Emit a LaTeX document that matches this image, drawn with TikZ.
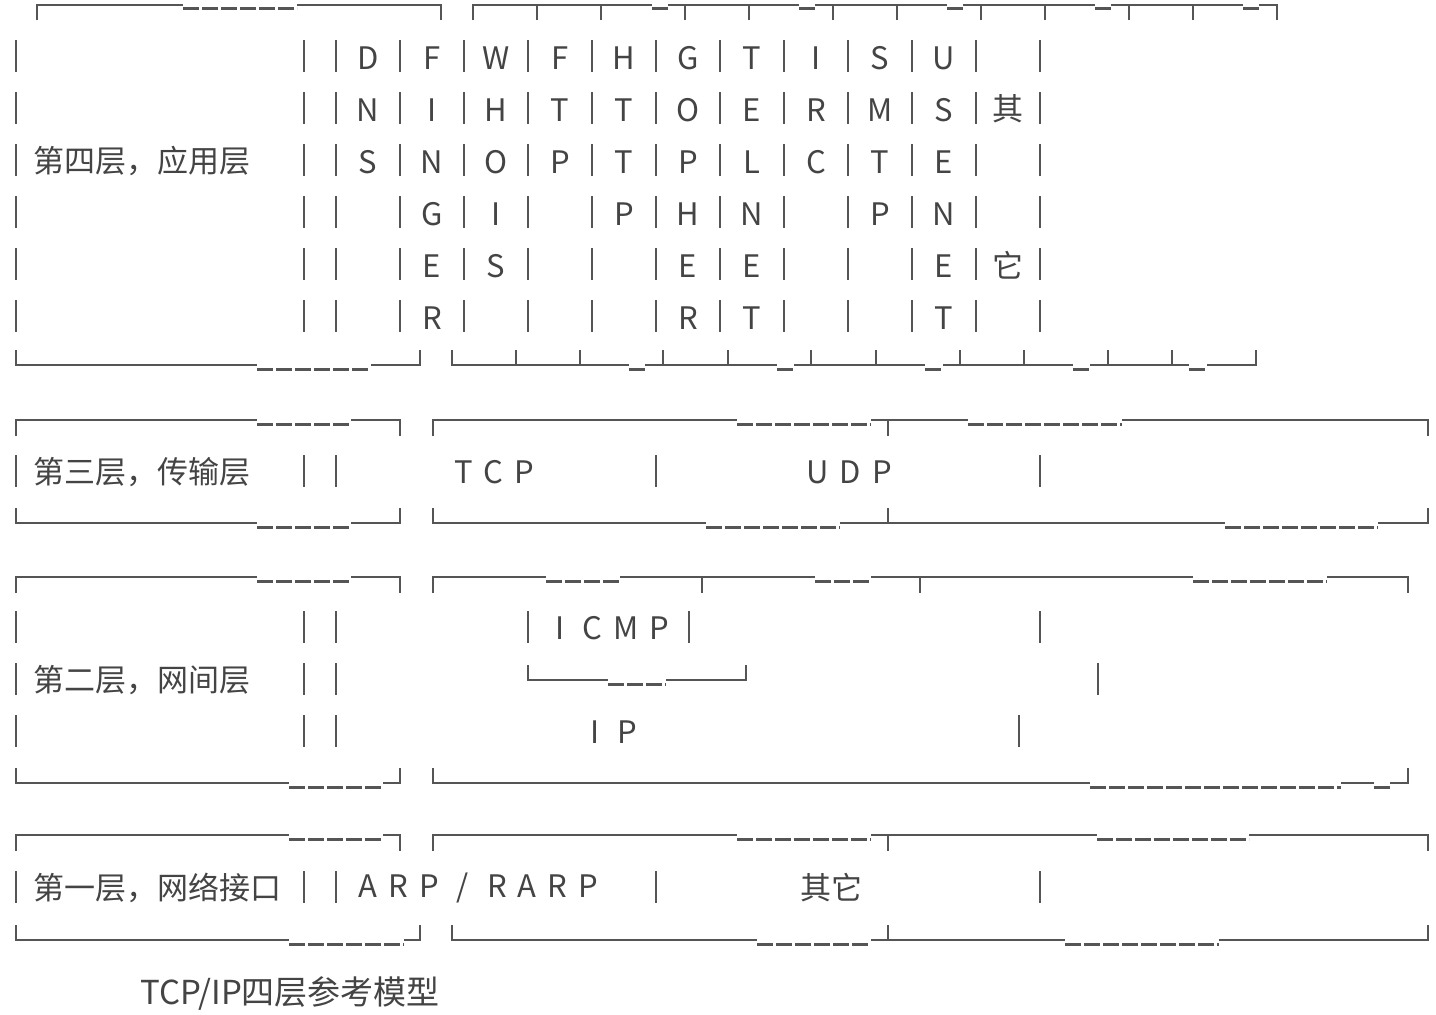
\documentclass[tikz,border=0pt]{standalone}
\usepackage{fontspec}
\setmainfont{Noto Sans CJK SC}
\newfontfamily\spaced[LetterSpace=36]{Noto Sans CJK SC}
\usepackage{tikz}
\definecolor{ink}{RGB}{85,85,85}
\definecolor{type}{RGB}{68,68,68}

\begin{document}
\begin{tikzpicture}[
x=0.5pt, y=-0.5pt,
font=\fontsize{15.5pt}{26pt}\selectfont,
rule/.style={draw=ink, line width=1pt},
uline/.style={draw=ink, line width=1.5pt, dash pattern=on 8pt off 1.5pt},
lbl/.style={text=type, inner sep=0pt},
col/.style={lbl, align=center, anchor=north},
spc/.style={lbl, anchor=west, font=\fontsize{15.5pt}{26pt}\spaced}
]
\useasboundingbox (0,0) rectangle (1436,1014);

% layer 4: application
\draw[rule] (37,20) |- (183,5) (297,5) -| (441,20);
\draw[uline] (183,8) -- (297,8);
\draw[rule] (473,20) |- (652,5) (668,5) -- (799,5) (815,5) -- (947,5) (963,5) -- (1095,5) (1111,5) -- (1243,5) (1259,5) -| (1277,20);
\foreach \x in {537,601,685,749,833,897,981,1045,1129,1193} \draw[rule] (\x,5) -- (\x,20);
\draw[uline] (652,8) -- (668,8) (799,8) -- (815,8) (947,8) -- (963,8) (1095,8) -- (1111,8) (1243,8) -- (1259,8);
\foreach \r in {57,109,...,317} {
  \foreach \x in {16,304} \draw[rule] (\x,\r-17) -- (\x,\r+15);
  \foreach \x in {336,400,...,1040} \draw[rule] (\x,\r-17) -- (\x,\r+15);
}
\node[lbl, anchor=west] (l4) at (33,161) {第四层，应用层};
\node[col] (dns) at (368,46) {D\\N\\S};
\node[col] (finger) at (432,46) {F\\I\\N\\G\\E\\R};
\node[col] (whois) at (496,46) {W\\H\\O\\I\\S};
\node[col] (ftp) at (560,46) {F\\T\\P};
\node[col] (http) at (624,46) {H\\T\\T\\P};
\node[col] (gopher) at (688,46) {G\\O\\P\\H\\E\\R};
\node[col] (telnet) at (752,46) {T\\E\\L\\N\\E\\T};
\node[col] (irc) at (816,46) {I\\R\\C};
\node[col] (smtp) at (880,46) {S\\M\\T\\P};
\node[col] (usenet) at (944,46) {U\\S\\E\\N\\E\\T};
\node[lbl] (qi) at (1008,109) {其};
\node[lbl] (ta) at (1008,265) {它};
\draw[rule] (16,350) |- (257,365) (371,365) -| (420,350);
\draw[uline] (257,369) -- (371,369);
\draw[rule] (452,350) |- (629,365) (645,365) -- (777,365) (794,365) -- (925,365) (943,365) -- (1073,365) (1090,365) -- (1189,365) (1207,365) -| (1256,350);
\foreach \x in {516,580,663,728,811,876,960,1024,1108,1172} \draw[rule] (\x,350) -- (\x,365);
\draw[uline] (629,369) -- (645,369) (777,369) -- (794,369) (925,369) -- (943,369) (1073,369) -- (1090,369) (1189,369) -- (1207,369);

% layer 3: transport
\draw[rule] (16,436) |- (257,420) (351,420) -| (400,436);
\draw[uline] (257,424) -- (351,424);
\draw[rule] (433,436) |- (737,420) (871,420) -- (968,420) (1122,420) -| (1428,436);
\draw[rule] (888,420) -- (888,436);
\draw[uline] (737,424) -- (871,424) (968,424) -- (1122,424);
\foreach \x in {16,304,336,656,1040} \draw[rule] (\x,455) -- (\x,487);
\node[lbl, anchor=west] (l3) at (33,472) {第三层，传输层};
\node[spc] (tcp) at (454,472) {TCP};
\node[spc] (udp) at (806,472) {UDP};
\draw[rule] (16,508) |- (257,523) (351,523) -| (400,508);
\draw[uline] (257,527) -- (351,527);
\draw[rule] (433,508) |- (706,523) (840,523) -- (1225,523) (1378,523) -| (1428,508);
\draw[rule] (888,508) -- (888,523);
\draw[uline] (706,527) -- (840,527) (1225,527) -- (1378,527);

% layer 2: internet
\draw[rule] (16,593) |- (257,577) (351,577) -| (400,593);
\draw[uline] (257,581) -- (351,581);
\draw[rule] (433,593) |- (546,577) (620,577) -- (815,577) (871,577) -- (1193,577) (1327,577) -| (1408,593);
\foreach \x in {702,920} \draw[rule] (\x,577) -- (\x,593);
\draw[uline] (546,581) -- (620,581) (815,581) -- (871,581) (1193,581) -- (1327,581);
\foreach \r in {628,680,732} \foreach \x in {16,304,336} \draw[rule] (\x,\r-17) -- (\x,\r+15);
\node[lbl, anchor=west] (l2) at (33,680) {第二层，网间层};
\draw[rule] (528,611) -- (528,643) (689,611) -- (689,643) (1040,611) -- (1040,643);
\node[spc] (icmp) at (555,628) {I CMP};
\draw[rule] (528,665) |- (608,680) (666,680) -| (746,665);
\draw[uline] (608,684) -- (666,684);
\draw[rule] (1098,663) -- (1098,695);
\node[spc] (ip) at (590,732) {I P};
\draw[rule] (1019,715) -- (1019,747);
\draw[rule] (16,768) |- (289,783) (383,783) -| (400,768);
\draw[uline] (289,787) -- (383,787);
\draw[rule] (433,768) |- (1090,783) (1341,783) -- (1374,783) (1390,783) -| (1408,768);
\draw[uline] (1090,787) -- (1341,787) (1374,787) -- (1390,787);

% layer 1: network interface
\draw[rule] (16,851) |- (289,835) (383,835) -| (400,851);
\draw[uline] (289,839) -- (383,839);
\draw[rule] (433,851) |- (737,835) (871,835) -- (1097,835) (1249,835) -| (1428,851);
\draw[rule] (888,835) -- (888,851);
\draw[uline] (737,839) -- (871,839) (1097,839) -- (1249,839);
\foreach \x in {16,304,336,656,1040} \draw[rule] (\x,871) -- (\x,903);
\node[lbl, anchor=west] (l1) at (33,888) {第一层，网络接口};
\node[spc] (arp) at (358,888) {ARP / RARP};
\node[lbl] (other) at (831,888) {其它};
\draw[rule] (16,925) |- (289,940) (404,940) -| (420,925);
\draw[uline] (289,944) -- (404,944);
\draw[rule] (452,925) |- (757,940) (871,940) -- (1065,940) (1219,940) -| (1428,925);
\draw[rule] (888,925) -- (888,940);
\draw[uline] (757,944) -- (871,944) (1065,944) -- (1219,944);

\node[lbl, anchor=west, font=\fontsize{16.5pt}{20pt}\selectfont] (title) at (140,993) {TCP/IP四层参考模型};
\end{tikzpicture}
\end{document}
